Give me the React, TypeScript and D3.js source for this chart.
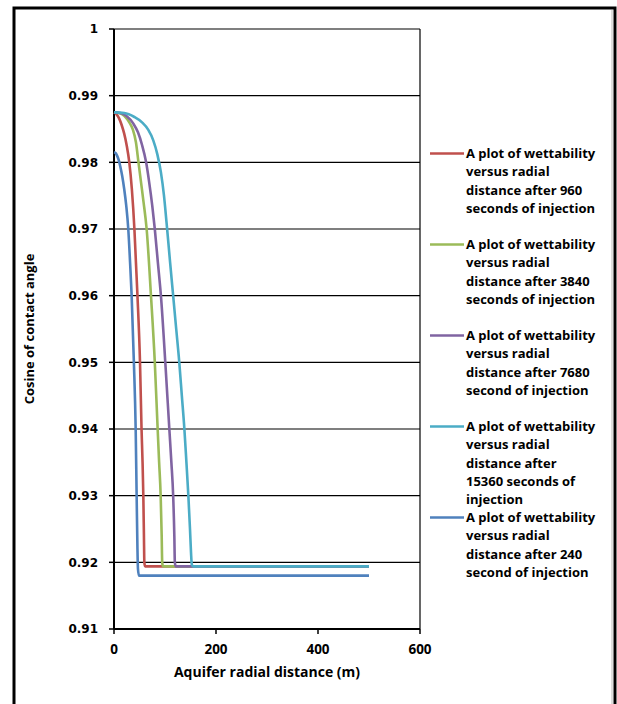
import React, { useEffect, useRef } from "react";
import * as d3 from "d3";

// axis ticks
const xTicks = [0, 200, 400, 600];
const yTicks = [0.91, 0.92, 0.93, 0.94, 0.95, 0.96, 0.97, 0.98, 0.99, 1];

// radial distance (m) / cosine of contact angle
const dist960 = [0, 5, 10, 15, 20, 25, 30, 35, 40, 43, 46, 51, 54, 56, 57.5, 58.7, 59.5, 61, 500];
const cos960 = [0.9875, 0.9872, 0.9866, 0.9856, 0.9843, 0.9825, 0.98, 0.976, 0.97, 0.965, 0.96, 0.95, 0.94, 0.935, 0.93, 0.924, 0.92, 0.9194, 0.9194];

const dist3840 = [0, 10, 20, 30, 37, 43, 48, 53, 58, 64, 72.5, 80, 85.6, 88.5, 91.5, 93.5, 94.5, 96, 500];
const cos3840 = [0.9875, 0.9874, 0.987, 0.986, 0.9849, 0.983, 0.98, 0.977, 0.974, 0.97, 0.96, 0.95, 0.94, 0.935, 0.93, 0.924, 0.92, 0.9194, 0.9194];

const dist7680 = [0, 12, 25, 38, 47, 55, 63, 69, 75, 80, 86, 92, 100.6, 108.5, 112.5, 116, 118.3, 119.3, 121, 500];
const cos7680 = [0.9875, 0.9874, 0.9869, 0.9858, 0.9845, 0.9826, 0.98, 0.977, 0.9735, 0.97, 0.965, 0.96, 0.95, 0.94, 0.935, 0.93, 0.924, 0.92, 0.9194, 0.9194];

const dist15360 = [0, 20, 40, 55, 67, 77, 85, 92, 98, 103, 110, 116, 122, 128, 133, 138, 142, 145.8, 149, 151, 152.5, 155, 500];
const cos15360 = [0.9875, 0.9874, 0.9868, 0.986, 0.9849, 0.9833, 0.9812, 0.9785, 0.975, 0.971, 0.965, 0.96, 0.955, 0.95, 0.945, 0.94, 0.935, 0.93, 0.925, 0.9215, 0.9197, 0.9194, 0.9194];

const dist240 = [0, 3, 6, 9, 12, 16, 20, 24, 28, 31.5, 34.6, 39, 42.5, 44.4, 46, 47, 49, 500];
const cos240 = [0.9815, 0.9814, 0.981, 0.9804, 0.9795, 0.978, 0.976, 0.9735, 0.97, 0.965, 0.96, 0.95, 0.94, 0.93, 0.922, 0.919, 0.918, 0.918];

const legendLabels = [
    ["A plot of wettability", "versus radial", "distance after 960", "seconds of injection"],
    ["A plot of wettability", "versus radial", "distance after 3840", "seconds of injection"],
    ["A plot of wettability", "versus radial", "distance after 7680", "second of injection"],
    ["A plot of wettability", "versus radial", "distance after", "15360 seconds of", "injection"],
    ["A plot of wettability", "versus radial", "distance after 240", "second of injection"],
];
const colors = ["#C0504D", "#9BBB59", "#8064A2", "#4BACC6", "#4F81BD"];

const series = [
    [dist960, cos960],
    [dist3840, cos3840],
    [dist7680, cos7680],
    [dist15360, cos15360],
    [dist240, cos240],
];

const W = 617, H = 704;
const margin = { left: 114, right: 197, top: 29, bottom: 75 };

function draw(node: SVGSVGElement) {
    const svg = d3.select(node);
    svg.selectAll("*").remove();

    // outer frame
    svg.append("rect")
        .attr("x", 14).attr("y", 8)
        .attr("width", 601).attr("height", 720)
        .attr("fill", "#fff")
        .attr("stroke", "#000")
        .attr("stroke-width", 3);
    svg.append("line")
        .attr("x1", 612).attr("x2", 612).attr("y1", 10).attr("y2", H)
        .attr("stroke", "#bbb").attr("stroke-width", 1);

    const x = d3.scaleLinear().domain([0, 600]).range([margin.left, W - margin.right]);
    const y = d3.scaleLinear().domain([0.91, 1]).range([H - margin.bottom, margin.top]);

    // gridlines
    svg.append("g").selectAll("line")
        .data(yTicks)
        .enter().append("line")
            .attr("x1", x(0)).attr("x2", x(600))
            .attr("y1", d => y(d)).attr("y2", d => y(d))
            .attr("stroke", "#000").attr("stroke-width", 1.2);

    // plot border right
    svg.append("line")
        .attr("x1", x(600)).attr("x2", x(600))
        .attr("y1", y(1)).attr("y2", y(0.91))
        .attr("stroke", "#000").attr("stroke-width", 1.2);

    // y axis
    svg.append("line")
        .attr("x1", x(0)).attr("x2", x(0))
        .attr("y1", y(1)).attr("y2", y(0.91))
        .attr("stroke", "#000").attr("stroke-width", 2);
    const yg = svg.append("g").selectAll("g").data(yTicks).enter().append("g");
    yg.append("line")
        .attr("x1", x(0) - 5).attr("x2", x(0))
        .attr("y1", d => y(d)).attr("y2", d => y(d))
        .attr("stroke", "#000").attr("stroke-width", 1.5);
    yg.append("text")
        .attr("x", x(0) - 16)
        .attr("y", d => y(d))
        .attr("dy", "0.36em")
        .attr("text-anchor", "end")
        .style("font-family", "DejaVu Sans")
        .style("font-weight", "bold")
        .style("font-size", "12px")
        .text(d => d === 1 ? "1" : d3.format(".2f")(d));

    // x axis
    svg.append("line")
        .attr("x1", x(0)).attr("x2", x(600))
        .attr("y1", y(0.91)).attr("y2", y(0.91))
        .attr("stroke", "#000").attr("stroke-width", 2);
    const xg = svg.append("g").selectAll("g").data(xTicks).enter().append("g");
    xg.append("line")
        .attr("x1", d => x(d)).attr("x2", d => x(d))
        .attr("y1", y(0.91)).attr("y2", y(0.91) + 5)
        .attr("stroke", "#000").attr("stroke-width", 1.5);
    xg.append("text")
        .attr("x", d => x(d))
        .attr("y", 654)
        .attr("text-anchor", "middle")
        .style("font-family", "Open Sans")
        .style("font-weight", "bold")
        .style("font-size", "13.5px")
        .text(d => d);

    // axis titles
    svg.append("text")
        .attr("x", (x(0) + x(600)) / 2)
        .attr("y", 677)
        .attr("text-anchor", "middle")
        .style("font-family", "Open Sans")
        .style("font-weight", "bold")
        .style("font-size", "14px")
        .text("Aquifer radial distance (m)");
    svg.append("text")
        .attr("transform", `translate(34, ${y(0.955)}) rotate(-90)`)
        .attr("text-anchor", "middle")
        .style("font-family", "Open Sans")
        .style("font-weight", "bold")
        .style("font-size", "13px")
        .text("Cosine of contact angle");

    // curves
    const line = d3.line<[number, number]>()
        .curve(d3.curveMonotoneX)
        .x(d => x(d[0]))
        .y(d => y(d[1]));

    svg.append("g").selectAll("path")
        .data(series)
        .enter().append("path")
            .attr("fill", "none")
            .attr("stroke", (d, i) => colors[i])
            .attr("stroke-width", 2.6)
            .attr("stroke-linejoin", "round")
            .attr("d", d => line(d[0].map((v, k) => [v, d[1][k]] as [number, number])));

    // legend
    const lg = svg.append("g").selectAll("g")
        .data(legendLabels)
        .enter().append("g")
            .attr("transform", (d, i) => `translate(430, ${153.5 + i * 91})`);
    lg.append("line")
        .attr("x1", 0).attr("x2", 34)
        .attr("stroke", (d, i) => colors[i])
        .attr("stroke-width", 2.6);
    lg.each(function (d) {
        const t = d3.select(this).append("text")
            .style("font-family", "Open Sans")
            .style("font-weight", "bold")
            .style("font-size", "13px");
        d.forEach((s, k) => {
            t.append("tspan")
                .attr("x", 36)
                .attr("y", k * 18.3)
                .attr("dy", "0.35em")
                .text(s);
        });
    });
}

export default function App() {
    const ref = useRef<SVGSVGElement>(null);
    useEffect(() => {
        if (ref.current) draw(ref.current);
    });
    return (
        <svg ref={ref} width={W} height={H}
            style={{ position: "absolute", left: 0, top: 0, background: "#fff" }} />
    );
}
